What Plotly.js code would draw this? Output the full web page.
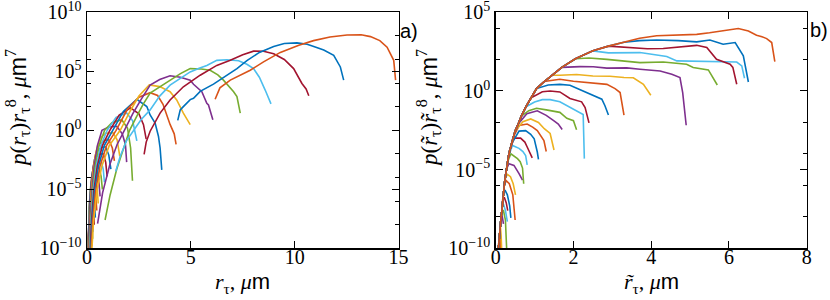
<!DOCTYPE html>
<html><head><meta charset="utf-8">
<script src="https://cdn.plot.ly/plotly-3.0.1.min.js"></script>
<style>html,body{margin:0;padding:0;background:#fff}</style>
</head><body><div id="chart" style="width:830px;height:300px"></div>
<script>
// MATLAB-style colour cycle (style, kept apart from data)
const palette = ['#0072BD','#D95319','#EDB120','#7E2F8E','#77AC30','#4DBEEE','#A2142F'];

// ---------- Panel a) : r_tau vs log10(p r^8) ----------
const leftX = [
 [0.02,0.03,0.05,0.08,0.11,0.13],
 [0.022,0.035,0.06,0.09,0.12,0.15,0.17],
 [0.025,0.04,0.065,0.1,0.14,0.17,0.19],
 [0.027,0.045,0.07,0.1,0.14,0.17,0.2,0.23],
 [0.03,0.05,0.075,0.11,0.15,0.2,0.24,0.27],
 [0.032,0.055,0.08,0.12,0.16,0.21,0.25,0.28,0.3],
 [0.035,0.06,0.09,0.13,0.18,0.24,0.28,0.32,0.35],
 [0.04,0.065,0.1,0.14,0.2,0.27,0.32,0.37,0.4],
 [0.045,0.07,0.11,0.16,0.22,0.31,0.37,0.43,0.47],
 [0.05,0.075,0.11,0.16,0.23,0.32,0.42,0.5,0.54],
 [0.055,0.08,0.11,0.16,0.23,0.33,0.43,0.5,0.58,0.63],
 [0.06,0.085,0.12,0.18,0.26,0.37,0.48,0.59,0.68,0.74],
 [0.065,0.095,0.135,0.2,0.29,0.41,0.55,0.68,0.78,0.84],
 [0.07,0.105,0.15,0.22,0.32,0.46,0.62,0.78,0.9,0.97],
 [0.08,0.12,0.17,0.25,0.36,0.52,0.72,0.9,1.05,1.15],
 [0.09,0.13,0.19,0.28,0.4,0.58,0.85,1.05,1.22,1.32],
 [0.1,0.145,0.21,0.31,0.45,0.65,0.9,1.25,1.45,1.58],
 [0.11,0.16,0.24,0.35,0.5,0.72,1.05,1.43,1.7,1.85,1.91],
 [0.12,0.18,0.27,0.4,0.58,0.85,1.2,1.67,1.95,2.1,2.19],
 [0.13,0.2,0.3,0.45,0.66,0.97,1.4,1.91,2.2,2.32,2.4],
 [0.15,0.22,0.33,0.5,0.74,1.1,1.55,2.1,2.5,2.72,2.85],
 [0.17,0.25,0.37,0.56,0.83,1.25,1.75,2.4,2.88,3.04,3.28,3.44,3.52,3.6],
 [0.19,0.28,0.42,0.63,0.94,1.4,1.95,2.5,3.04,3.4,3.66,4.0,4.2,4.29],
 [0.22,0.32,0.48,0.72,1.07,1.6,2.1,2.5,3.0,3.5,4.0,4.32,4.64,4.97],
 [0.51,0.75,1.1,1.45,1.8,2.2,2.6,3.04,3.5,4.0,4.5,4.97,5.13,5.53,5.77,5.85,6.06],
 [0.87,1.11,1.43,1.75,2.05,2.4,2.7,3.04,3.52,4.0,4.5,4.97,5.5,5.93,6.3,6.57,7.06,7.22,7.38],
 [1.38,1.6,1.9,2.25,2.6,3.04,3.5,4.0,4.5,4.97,5.4,5.77,6.25,6.74,7.3,7.7,8.02,8.3,8.58,8.86],
 [2.75,2.85,3.04,3.52,4.0,4.64,5.45,6.25,6.9,7.5,8.02,8.5,8.99,9.5,9.95,10.35,10.55,10.68],
 [4.37,4.49,4.64,4.97,5.13,5.45,6.09,6.6,7.22,7.7,8.3,8.99,9.5,10.11,10.6,10.92,11.4,11.88,12.2,12.36],
 [6.17,6.4,6.9,7.38,7.86,8.5,9.31,10.2,10.91,11.7,12.52,13.2,13.65,14.1,14.45,14.77,14.86]
];
const leftLogY = [
 [-10.5,-10.2,-9.9,-9.8,-10.2,-10.6],
 [-10.5,-10.0,-9.6,-9.3,-9.2,-9.9,-10.6],
 [-10.5,-9.8,-9.2,-8.8,-8.6,-9.3,-10.4],
 [-10.5,-9.6,-8.9,-8.3,-8.0,-8.0,-8.7,-9.8],
 [-10.5,-9.4,-8.5,-7.8,-7.4,-7.4,-8.1,-9.2],
 [-10.5,-9.2,-8.1,-7.3,-6.9,-6.8,-6.8,-7.5,-8.6],
 [-10.5,-9.0,-7.7,-6.8,-6.3,-6.2,-6.2,-6.9,-8.0],
 [-10.5,-8.8,-7.3,-6.3,-5.8,-5.6,-5.6,-6.3,-7.4],
 [-10.5,-8.6,-6.9,-5.8,-5.2,-5.0,-5.0,-5.7,-6.8],
 [-10.5,-8.4,-6.7,-5.4,-4.7,-4.4,-4.4,-5.1,-6.2],
 [-10.5,-8.3,-6.5,-5.1,-4.3,-3.9,-3.8,-3.8,-4.5,-5.6],
 [-10.5,-8.2,-6.2,-4.7,-3.8,-3.3,-3.2,-3.2,-3.9,-5.0],
 [-10.5,-8.1,-6.0,-4.4,-3.3,-2.8,-2.6,-2.6,-3.3,-4.4],
 [-10.5,-8.0,-5.8,-4.1,-2.9,-2.2,-2.0,-2.0,-2.7,-3.9],
 [-10.5,-7.9,-5.6,-3.8,-2.5,-1.7,-1.45,-1.4,-2.1,-3.3],
 [-10.5,-7.8,-5.4,-3.5,-2.1,-1.2,-0.85,-0.8,-1.5,-2.6],
 [-10.5,-7.7,-5.3,-3.3,-1.7,-0.6,-0.25,-0.2,-0.8,-2.2],
 [-10.5,-7.6,-5.1,-3.0,-1.3,0.0,0.28,0.34,-0.3,-1.2,-2.7],
 [-10.5,-7.6,-5.1,-3.0,-1.3,0.0,0.65,0.9,0.2,-1.5,-4.27],
 [-10.5,-7.6,-5.1,-3.0,-1.3,0.0,1.1,1.46,0.8,-0.2,-0.9],
 [-10.5,-7.6,-5.1,-3.0,-1.3,0.0,1.3,1.9,1.4,0.48,-0.75],
 [-10.5,-7.6,-5.1,-3.0,-1.3,0.0,1.6,2.63,2.01,1.3,0.62,-0.5,-1.5,-3.35],
 [-10.5,-7.6,-5.1,-3.0,-1.3,0.0,1.8,2.8,3.19,2.95,2.2,0.5,-0.3,-1.2],
 [-10.5,-7.6,-5.1,-3.0,-1.3,0.0,1.7,2.9,3.85,3.7,3.27,2.57,1.46,0.48],
 [-7.9,-5.3,-2.9,-1.2,0.0,1.4,2.6,3.83,4.3,4.62,4.5,4.25,3.9,3.27,2.29,2.15,0.9],
 [-7.6,-5.5,-3.3,-1.5,0.0,1.2,2.2,3.16,3.69,4.25,4.8,5.23,5.2,5.09,4.7,4.25,3.27,2.85,1.46],
 [-3.5,-2.2,-0.9,0.0,0.9,1.73,2.9,3.83,4.4,4.95,5.25,5.5,5.93,5.98,5.9,5.6,5.23,4.5,3.41,2.24],
 [-2.04,-1.0,-0.08,1.46,2.57,3.69,4.67,5.5,5.93,6.4,6.71,6.7,6.48,6.0,5.23,3.97,3.5,2.93],
 [0.84,1.73,2.01,2.6,2.71,3.3,3.91,4.5,5.23,5.9,6.6,7.1,7.35,7.41,7.3,7.1,6.8,6.35,5.37,4.25],
 [2.63,3.6,4.25,4.67,5.09,5.8,6.6,7.2,7.6,7.9,8.08,8.1,7.94,7.6,7.04,5.93,4.25]
];

// ---------- Panel b) : shared rising envelope + each curve's own tail ----------
const envX    = [0.05,0.08,0.1,0.12,0.14,0.16,0.18,0.2,0.22,0.24,0.27,0.3,0.33,0.36,0.4,0.44,0.5,0.58,0.66,0.78,0.9,1.05,1.25,1.45,1.7,2.05,2.5,2.9,3.3,3.7,4.14];
const envLogY = [-10.6,-9.6,-9.0,-8.6,-8.0,-7.6,-6.9,-6.5,-6.0,-5.6,-5.0,-4.55,-4.15,-3.8,-3.4,-3.0,-2.55,-2.1,-1.6,-1.0,-0.45,0.15,0.6,1.0,1.5,2.05,2.55,2.85,3.1,3.35,3.51];
const rightTailX = [
 [0.08,0.1,0.11],
 [0.1,0.12,0.14],
 [0.12,0.14,0.16],
 [0.14,0.17,0.2],
 [0.16,0.2,0.25,0.27,0.29],
 [0.17,0.2,0.25,0.3],
 [0.18,0.22,0.27,0.31],
 [0.2,0.24,0.3,0.36,0.39],
 [0.22,0.27,0.35,0.44,0.5],
 [0.24,0.3,0.38,0.45,0.51],
 [0.27,0.34,0.47,0.6,0.69],
 [0.3,0.39,0.56,0.63,0.69,0.72],
 [0.33,0.43,0.6,0.7,0.77,0.81],
 [0.36,0.47,0.64,0.75,0.81,0.9,0.94],
 [0.4,0.6,0.77,0.9,0.99,1.07,1.1],
 [0.44,0.6,0.81,0.95,1.07,1.24,1.3],
 [0.5,0.7,0.9,1.1,1.25,1.4,1.5],
 [0.58,0.8,1.07,1.3,1.5,1.61,1.71],
 [0.66,0.85,1.05,1.3,1.65,1.83,2.0,2.08],
 [0.78,1.0,1.2,1.4,1.65,1.91,2.17,2.25,2.28],
 [0.9,1.2,1.4,1.65,1.91,2.21,2.3,2.4],
 [1.05,1.35,1.65,1.91,2.25,2.51,2.73,2.81,2.9],
 [1.25,1.65,2.0,2.34,2.86,3.07,3.2,3.3],
 [1.45,1.65,2.08,2.5,2.94,3.3,3.54,3.8,3.99],
 [1.7,2.17,2.51,2.86,3.37,3.71,4.23,4.53,4.74,4.81,4.9],
 [2.05,2.4,2.86,3.3,3.71,4.31,4.91,5.08,5.3,5.47,5.7],
 [2.5,2.9,3.3,3.71,4.1,4.4,4.66,5.2,5.8,6.2,6.33,6.4],
 [2.9,3.45,3.9,4.31,4.8,5.17,5.43,5.68,6.03,6.1,6.2],
 [3.3,3.7,4.14,4.7,5.17,5.51,5.85,6.16,6.37,6.5],
 [4.14,4.6,5.17,5.5,5.85,6.24,6.5,6.71,6.85,6.97,7.1,7.18]
];
const rightTailLogY = [
 [-9.6,-10.2,-10.6],
 [-9.0,-9.6,-10.5],
 [-8.6,-9.2,-10.5],
 [-8.0,-8.0,-8.45],
 [-7.6,-7.6,-8.2,-9.2,-10.5],
 [-7.3,-7.2,-7.6,-8.3],
 [-6.9,-6.75,-7.1,-7.6],
 [-6.5,-6.3,-6.6,-7.3,-8.07],
 [-6.0,-5.7,-5.9,-6.6,-8.2],
 [-5.6,-5.3,-5.45,-5.9,-6.6],
 [-5.0,-4.62,-4.73,-5.25,-5.67],
 [-4.55,-3.99,-4.3,-4.5,-4.9,-5.9],
 [-4.15,-3.46,-3.65,-3.85,-4.1,-4.7],
 [-3.8,-3.0,-3.0,-3.25,-3.56,-3.99,-4.25],
 [-3.4,-2.55,-2.52,-2.75,-3.04,-3.88,-4.35],
 [-3.0,-2.2,-2.1,-2.3,-2.52,-3.15,-3.85],
 [-2.55,-1.95,-1.78,-2.0,-2.4,-2.7,-3.75],
 [-2.1,-1.45,-1.26,-1.55,-1.9,-2.1,-2.45],
 [-1.6,-1.25,-1.1,-1.2,-1.36,-1.74,-1.89,-2.46],
 [-1.0,-0.7,-0.55,-0.55,-0.69,-1.05,-1.36,-1.5,-4.3],
 [-0.45,-0.05,0.0,-0.06,-0.48,-0.69,-1.05,-2.03],
 [0.15,0.38,0.42,0.36,0.0,-0.31,-0.52,-0.94,-1.53],
 [0.6,0.74,0.62,0.53,0.42,0.15,-0.1,-1.53],
 [1.0,1.0,1.05,0.95,0.94,0.86,0.84,0.42,-0.27],
 [1.5,1.55,1.54,1.45,1.47,1.38,1.27,1.06,0.85,-0.1,-2.18],
 [2.05,2.1,2.01,1.9,1.8,1.84,1.7,1.49,1.4,1.34,0.38],
 [2.55,2.42,2.45,2.44,2.3,2.19,1.91,1.88,1.86,1.84,1.59,0.81],
 [2.85,2.75,2.68,2.7,2.8,2.9,2.76,2.01,1.7,1.5,0.43],
 [3.1,3.2,3.24,3.2,3.12,3.24,2.97,3.08,2.23,0.57],
 [3.51,3.57,3.6,3.7,3.81,3.97,3.81,3.54,3.45,3.33,3.08,1.87]
];

// ---------- ticks ----------
const leftXTicks  = [0,5,10,15];
const rightXTicks = [0,2,4,6,8];
const leftYExp  = [-10,-5,0,5,10];
const rightYExp = [-10,-5,0,5];
const leftMinorExp  = [-8,-6,-4,-2,2,4,6,8];
const rightMinorExp = [-8,-6,-4,-2,2,4];

const pow10 = e => Math.pow(10, e);
const expLabel = e => '10<sup>' + String(e).replace('-', '\u2212') + '</sup>';

const traces = [];
leftX.forEach((xs, i) => {
  traces.push({x: xs, y: leftLogY[i].map(pow10), xaxis: 'x', yaxis: 'y', mode: 'lines',
    line: {color: palette[i % 7], width: 1.6}, hoverinfo: 'skip'});
});
rightTailX.forEach((tx, i) => {
  const xs = [], ys = [];
  envX.forEach((ex, j) => { if (ex < tx[0]) { xs.push(ex); ys.push(envLogY[j]); } });
  tx.forEach((v, j) => { xs.push(v); ys.push(rightTailLogY[i][j]); });
  traces.push({x: xs, y: ys.map(pow10), xaxis: 'x2', yaxis: 'y2', mode: 'lines',
    line: {color: palette[i % 7], width: 1.6}, hoverinfo: 'skip'});
});

const tickFont = {family: 'Liberation Serif, DejaVu Serif, serif', size: 20, color: '#000'};
const axisBase = {showline: true, linecolor: '#000', linewidth: 1.5, mirror: 'ticks',
  ticks: 'inside', ticklen: 7, tickwidth: 1, tickcolor: '#000', showgrid: false, zeroline: false,
  tickfont: tickFont, automargin: false, ticklabeloverflow: 'allow'};
const minorBase = {ticks: 'inside', ticklen: 4, tickwidth: 1, tickcolor: '#000', showgrid: false};

const yDom = [1 - 248.3/300, 1 - 12.3/300];
const titleFont = {family: 'Liberation Serif, DejaVu Serif, serif', size: 22, color: '#000'};
const mSans = '<span style="font-family:Liberation Sans, Arial, sans-serif">m</span>';

const layout = {
  width: 830, height: 300, margin: {l: 0, r: 0, t: 0, b: 0},
  paper_bgcolor: '#fff', plot_bgcolor: '#fff', showlegend: false,
  xaxis: Object.assign({}, axisBase, {domain: [87/830, 398.5/830], range: [0, 15], anchor: 'y',
    tickmode: 'array', tickvals: leftXTicks, ticktext: leftXTicks.map(String), ticklabelstandoff: -10}),
  yaxis: Object.assign({}, axisBase, {domain: yDom, type: 'log', range: [-10.0001, 10.0001], anchor: 'x',
    tickmode: 'array', tickvals: leftYExp.map(pow10), ticktext: leftYExp.map(expLabel),
    minor: Object.assign({}, minorBase, {tickmode: 'array', tickvals: leftMinorExp.map(pow10)})}),
  xaxis2: Object.assign({}, axisBase, {domain: [495.7/830, 806.7/830], range: [0, 8], anchor: 'y2',
    tickmode: 'array', tickvals: rightXTicks, ticktext: rightXTicks.map(String), ticklabelstandoff: -10}),
  yaxis2: Object.assign({}, axisBase, {domain: yDom, type: 'log', range: [-10.0001, 5.0001], anchor: 'x2',
    tickmode: 'array', tickvals: rightYExp.map(pow10), ticktext: rightYExp.map(expLabel),
    minor: Object.assign({}, minorBase, {tickmode: 'array', tickvals: rightMinorExp.map(pow10)})}),
  annotations: [
    {xref: 'paper', yref: 'paper', x: 17/830, y: 1 - 108/300, textangle: -90, showarrow: false,
     xanchor: 'center', yanchor: 'middle', font: {family: titleFont.family, size: 23, color: '#000'},
     text: '<i>p</i>(<i>r</i><sub>τ</sub>)<i>r</i><sub>τ</sub><sup>8</sup>, <i>μ</i>' + mSans + '<sup>7</sup>'},
    {xref: 'paper', yref: 'paper', x: 428/830, y: 1 - 108/300, textangle: -90, showarrow: false,
     xanchor: 'center', yanchor: 'middle', font: {family: titleFont.family, size: 23, color: '#000'},
     text: '<i>p</i>(<i>r\u0303</i><sub>τ</sub>)<i>r\u0303</i><sub>τ</sub><sup>8</sup>, <i>μ</i>' + mSans + '<sup>7</sup>'},
    {xref: 'paper', yref: 'paper', x: 242/830, y: 1 - 283/300, showarrow: false,
     xanchor: 'center', yanchor: 'middle', font: titleFont,
     text: '<i>r</i><sub>τ</sub>, <i>μ</i>' + mSans},
    {xref: 'paper', yref: 'paper', x: 651/830, y: 1 - 283/300, showarrow: false,
     xanchor: 'center', yanchor: 'middle', font: titleFont,
     text: '<i>r\u0303</i><sub>τ</sub>, <i>μ</i>' + mSans},
    {xref: 'paper', yref: 'paper', x: 409/830, y: 1 - 31/300, showarrow: false,
     xanchor: 'center', yanchor: 'middle', font: {family: 'Liberation Sans, Arial, sans-serif', size: 20, color: '#000'},
     text: 'a)'},
    {xref: 'paper', yref: 'paper', x: 819/830, y: 1 - 30/300, showarrow: false,
     xanchor: 'center', yanchor: 'middle', font: {family: 'Liberation Sans, Arial, sans-serif', size: 20, color: '#000'},
     text: 'b)'}
  ]
};

Plotly.newPlot('chart', traces, layout, {staticPlot: true, displayModeBar: false});
</script>
</body></html>
